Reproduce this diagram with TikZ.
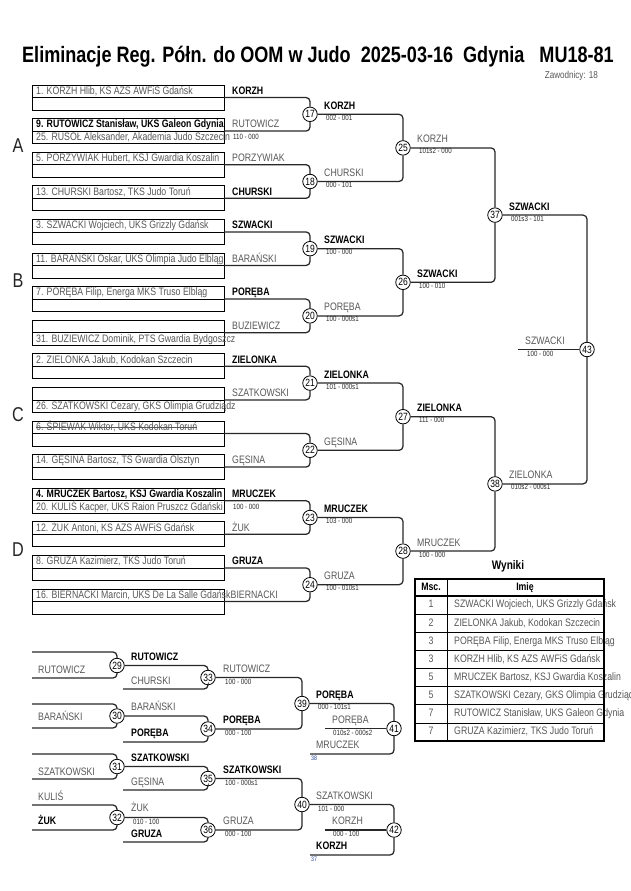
\documentclass[tikz,border=0pt]{standalone}
\usepackage{fontspec}
\setmainfont{Liberation Sans}[FakeStretch=0.81]
\definecolor{txtgray}{RGB}{88,88,88}
\definecolor{linec}{RGB}{40,40,40}
\definecolor{scorec}{RGB}{45,45,45}
\definecolor{refblue}{RGB}{40,70,150}
\begin{document}
\begin{tikzpicture}[x=1pt,y=-1pt,
  boxst/.style={draw=black,line width=0.8pt,minimum width=192pt,minimum height=25pt,inner sep=0pt,outer sep=0pt},
  rt/.style={anchor=west,inner sep=0pt,font=\fontsize{10.8}{12}\selectfont,text=txtgray,text height=7.8pt,text depth=2pt},
  rtb/.style={rt,font=\fontsize{10.8}{12}\selectfont\bfseries,text=black},
  sc/.style={anchor=west,inner sep=0pt,font=\fontsize{7.6}{8}\selectfont,text=scorec,text height=5.4pt,text depth=1.4pt},
  mc/.style={circle,draw=black,line width=0.8pt,fill=white,minimum size=14.5pt,inner sep=0pt,font=\fontsize{10.5}{11}\selectfont},
  br/.style={draw=linec,line width=1.25pt,rounded corners=4pt},
  tinyb/.style={anchor=west,inner sep=0pt,font=\fontsize{6.5}{7}\selectfont,text=refblue},
  grp/.style={inner sep=0pt,font=\fontsize{20}{22}\selectfont,text=black!85},
  thd/.style={inner sep=0pt,font=\fontsize{10.8}{12}\selectfont\bfseries,text height=7.8pt,text depth=2pt},
  tnum/.style={inner sep=0pt,font=\fontsize{10.8}{12}\selectfont,text=txtgray,text height=7.8pt,text depth=2pt},
]
\useasboundingbox (0,0) rectangle (630,891);
\fill[white] (0,0) rectangle (630,891);

% title
\node[anchor=west,inner sep=0pt,font=\fontsize{22.3}{26}\selectfont\bfseries] (title) at (22,57)
  {Eliminacje Reg. Półn. do OOM w Judo\ \ 2025-03-16\ \ Gdynia\ \ \ MU18-81};
\node[anchor=east,inner sep=0pt,font=\fontsize{10}{11}\selectfont,text=txtgray] (zaw) at (598,76) {Zawodnicy: 18};

% group letters
\node[grp] (gA) at (18,146) {A};
\node[grp] (gB) at (18,281) {B};
\node[grp] (gC) at (18,415) {C};
\node[grp] (gD) at (18,550) {D};

% entry boxes
\foreach \i in {0,...,15}{
  \node[boxst] (b\i) at (128,{97.5+33.6*\i}) {};
  \draw[line width=0.8pt] (b\i.west) -- (b\i.east);
}

% box texts
\node[rt]  (t0)  at (36,91.3)  {1. KORZH Hlib, KS AZS AWFiS Gdańsk};
\node[rtb] (t1)  at (36,124.9) {9. RUTOWICZ Stanisław, UKS Galeon Gdynia};
\node[rt]  (t1b) at (36,137.6) {25. RUSOŁ Aleksander, Akademia Judo Szczecin};
\node[rt]  (t2)  at (36,158.5) {5. PORZYWIAK Hubert, KSJ Gwardia Koszalin};
\node[rt]  (t3)  at (36,192.1) {13. CHURSKI Bartosz, TKS Judo Toruń};
\node[rt]  (t4)  at (36,225.7) {3. SZWACKI Wojciech, UKS Grizzly Gdańsk};
\node[rt]  (t5)  at (36,259.3) {11. BARAŃSKI Oskar, UKS Olimpia Judo Elbląg};
\node[rt]  (t6)  at (36,292.9) {7. PORĘBA Filip, Energa MKS Truso Elbląg};
\node[rt]  (t7b) at (36,339.2) {31. BUZIEWICZ Dominik, PTS Gwardia Bydgoszcz};
\node[rt]  (t8)  at (36,360.1) {2. ZIELONKA Jakub, Kodokan Szczecin};
\node[rt]  (t9b) at (36,406.4) {26. SZATKOWSKI Cezary, GKS Olimpia Grudziądz};
\node[rt]  (t10) at (36,427.3) {6. ŚPIEWAK Wiktor, UKS Kodokan Toruń};
\draw[txtgray,line width=0.6pt] (t10.west) -- (t10.east);
\node[rt]  (t11) at (36,460.9) {14. GĘSINA Bartosz, TS Gwardia Olsztyn};
\node[rtb] (t12) at (36,494.5) {4. MRUCZEK Bartosz, KSJ Gwardia Koszalin};
\node[rt]  (t12b) at (36,507.2) {20. KULIŚ Kacper, UKS Raion Pruszcz Gdański};
\node[rt]  (t13) at (36,528.1) {12. ŻUK Antoni, KS AZS AWFiS Gdańsk};
\node[rt]  (t14) at (36,561.7) {8. GRUZA Kazimierz, TKS Judo Toruń};
\node[rt]  (t15) at (36,595.3) {16. BIERNACKI Marcin, UKS De La Salle Gdańsk};

% names right of boxes
\node[rtb] (n0)  at (232,91.3)  {KORZH};
\node[rt]  (n1)  at (232,124.9) {RUTOWICZ};
\node[sc]  (s1)  at (233,137.6) {110 - 000};
\node[rt]  (n2)  at (232,158.5) {PORZYWIAK};
\node[rtb] (n3)  at (232,192.1) {CHURSKI};
\node[rtb] (n4)  at (232,225.7) {SZWACKI};
\node[rt]  (n5)  at (232,259.3) {BARAŃSKI};
\node[rtb] (n6)  at (232,292.9) {PORĘBA};
\node[rt]  (n7)  at (232,326.5) {BUZIEWICZ};
\node[rtb] (n8)  at (232,360.1) {ZIELONKA};
\node[rt]  (n9)  at (232,393.7) {SZATKOWSKI};
\node[rt]  (n11) at (232,460.9) {GĘSINA};
\node[rtb] (n12) at (232,494.5) {MRUCZEK};
\node[sc]  (s12) at (233,507.2) {100 - 000};
\node[rt]  (n13) at (232,528.1) {ŻUK};
\node[rtb] (n14) at (232,561.7) {GRUZA};
\node[rt]  (n15) at (230.5,595.3) {BIERNACKI};

% match circles main bracket
\foreach \m/\x/\y in {17/310/114.3,18/310/181.5,19/310/248.7,20/310/315.9,21/310/383.1,22/310/450.3,23/310/517.5,24/310/584.7,
  25/403/147.9,26/403/282.3,27/403/416.7,28/403/551.1,37/495/215.1,38/495/483.9,43/587/349.5}
  \node[mc] (m\m) at (\x,\y) {\m};

% round 1 brackets
\foreach \k/\m in {0/17,1/18,2/19,3/20,4/21,5/22,6/23,7/24}{
  \pgfmathtruncatemacro\ba{2*\k}
  \pgfmathtruncatemacro\bb{2*\k+1}
  \draw[br] (b\ba.east) -| (m\m.north);
  \draw[br] (b\bb.east) -| (m\m.south);
}
% later rounds
\foreach \a/\b/\c in {17/18/25,19/20/26,21/22/27,23/24/28,25/26/37,27/28/38,37/38/43}{
  \draw[br] (m\a.east) -| (m\c.north);
  \draw[br] (m\b.east) -| (m\c.south);
}
\coordinate (f43) at (518,349.5);
\draw[br] (f43) -- (m43.west);

% round 1 labels
\node[rtb] at (324,106.3) {KORZH};      \node[sc] at (326,118.3) {002 - 001};
\node[rt]  at (324,173.5) {CHURSKI};    \node[sc] at (326,185.5) {000 - 101};
\node[rtb] at (324,240.7) {SZWACKI};    \node[sc] at (326,252.7) {100 - 000};
\node[rt]  at (324,307.9) {PORĘBA};     \node[sc] at (326,319.9) {100 - 000s1};
\node[rtb] at (324,375.1) {ZIELONKA};   \node[sc] at (326,387.1) {101 - 000s1};
\node[rt]  at (324,442.3) {GĘSINA};
\node[rtb] at (324,509.5) {MRUCZEK};    \node[sc] at (326,521.5) {103 - 000};
\node[rt]  at (324,576.7) {GRUZA};      \node[sc] at (326,588.7) {100 - 010s1};
% round 2 labels
\node[rt]  at (417,139.9) {KORZH};      \node[sc] at (419,151.9) {101s2 - 000};
\node[rtb] at (417,274.3) {SZWACKI};    \node[sc] at (419,286.3) {100 - 010};
\node[rtb] at (417,408.7) {ZIELONKA};   \node[sc] at (419,420.7) {111 - 000};
\node[rt]  at (417,543.1) {MRUCZEK};    \node[sc] at (419,555.1) {100 - 000};
% round 3 labels
\node[rtb] at (509,207.1) {SZWACKI};    \node[sc] at (511,219.1) {001s3 - 101};
\node[rt]  at (509,475.9) {ZIELONKA};   \node[sc] at (511,487.9) {010s2 - 000s1};
% final
\node[rt]  at (525,341.5) {SZWACKI};    \node[sc] at (527,354.5) {100 - 000};

% repechage circles
\foreach \m/\x/\y in {29/117/665.5,30/117/716,31/117/766.5,32/117/817.5,33/208/677.5,34/208/729,35/208/778.5,36/208/830,
  39/302/703.5,40/302/804.5,41/394/728.5,42/394/830}
  \node[mc] (m\m) at (\x,\y) {\m};

\coordinate (r29a) at (32,652);  \coordinate (r29b) at (32,678);
\coordinate (r30a) at (32,704);  \coordinate (r30b) at (32,728);
\coordinate (r31a) at (32,754);  \coordinate (r31b) at (32,779);
\coordinate (r32a) at (32,805);  \coordinate (r32b) at (32,830);
\coordinate (r33b) at (123,689); \coordinate (r34b) at (123,742);
\coordinate (r35b) at (123,790); \coordinate (r36b) at (123,842);
\coordinate (r41a) at (325,728.5); \coordinate (r41b) at (310,754);
\coordinate (r42a) at (325,830);   \coordinate (r42b) at (310,855);

\foreach \m in {29,30,31,32}{
  \draw[br] (r\m a) -| (m\m.north);
  \draw[br] (r\m b) -| (m\m.south);
}
\foreach \a/\c in {29/33,30/34,31/35,32/36}{
  \draw[br] (m\a.east) -| (m\c.north);
  \draw[br] (r\c b) -| (m\c.south);
}
\foreach \a/\b/\c in {33/34/39,35/36/40}{
  \draw[br] (m\a.east) -| (m\c.north);
  \draw[br] (m\b.east) -| (m\c.south);
}
\draw[br] (m39.east) -| (m41.north);
\draw[br] (r41a) -- (m41.west);
\draw[br] (r41b) -| (m41.south);
\draw[br] (m40.east) -| (m42.north);
\draw[br] (r42a) -- (m42.west);
\draw[br] (r42b) -| (m42.south);

% repechage labels
\node[rt]  at (38,671) {RUTOWICZ};
\node[rt]  at (38,718) {BARAŃSKI};
\node[rt]  at (38,773) {SZATKOWSKI};
\node[rt]  at (38,798) {KULIŚ};
\node[rtb] at (38,822) {ŻUK};
\node[rtb] at (131,658) {RUTOWICZ};
\node[rt]  at (131,682) {CHURSKI};
\node[rt]  at (131,708) {BARAŃSKI};
\node[rtb] at (131,734) {PORĘBA};
\node[rtb] at (131,759) {SZATKOWSKI};
\node[rt]  at (131,783) {GĘSINA};
\node[rt]  at (131,809) {ŻUK};        \node[sc] at (133,822) {010 - 100};
\node[rtb] at (131,835) {GRUZA};
\node[rt]  at (223,670) {RUTOWICZ};   \node[sc] at (225,682) {100 - 000};
\node[rtb] at (223,721) {PORĘBA};     \node[sc] at (225,733) {000 - 100};
\node[rtb] at (223,771) {SZATKOWSKI}; \node[sc] at (225,783) {100 - 000s1};
\node[rt]  at (223,822) {GRUZA};      \node[sc] at (225,834) {000 - 100};
\node[rtb] at (316,695.5) {PORĘBA};   \node[sc] at (318,707.5) {000 - 101s1};
\node[rt]  at (332,720.5) {PORĘBA};   \node[sc] at (333,733) {010s2 - 000s2};
\node[rt]  at (316,746) {MRUCZEK};    \node[tinyb] at (311,758.5) {38};
\node[rt]  at (316,797) {SZATKOWSKI}; \node[sc] at (318,809) {101 - 000};
\node[rt]  at (332,822) {KORZH};      \node[sc] at (333,834.5) {000 - 100};
\node[rtb] at (316,847) {KORZH};      \node[tinyb] at (311,859.5) {37};

% results table
\node[inner sep=0pt,font=\fontsize{12.4}{14}\selectfont\bfseries] (wyn) at (508,566) {Wyniki};
\node[thd] (hmsc) at (431,588) {Msc.};
\node[thd] (himie) at (525,588) {Imię};
\foreach \r/\p/\nm in {1/1/{SZWACKI Wojciech, UKS Grizzly Gdańsk},
  2/2/{ZIELONKA Jakub, Kodokan Szczecin},
  3/3/{PORĘBA Filip, Energa MKS Truso Elbląg},
  4/3/{KORZH Hlib, KS AZS AWFiS Gdańsk},
  5/5/{MRUCZEK Bartosz, KSJ Gwardia Koszalin},
  6/5/{SZATKOWSKI Cezary, GKS Olimpia Grudziądz},
  7/7/{RUTOWICZ Stanisław, UKS Galeon Gdynia},
  8/7/{GRUZA Kazimierz, TKS Judo Toruń}}{
  \node[tnum] (tp\r) at (431,{596+18.125*(\r-0.5)}) {\p};
  \node[rt] (tn\r) at (454,{596+18.125*(\r-0.5)}) {\nm};
}
\foreach \r in {1,...,7}
  \draw[line width=0.7pt] (415,{596+18.125*\r}) -- (604,{596+18.125*\r});
\draw[line width=0.8pt] (447,579) -- (447,741);
\draw[line width=1.4pt] (415,596) -- (604,596);
\draw[line width=1.8pt] (415,579) rectangle (604,741);
\end{tikzpicture}
\end{document}
